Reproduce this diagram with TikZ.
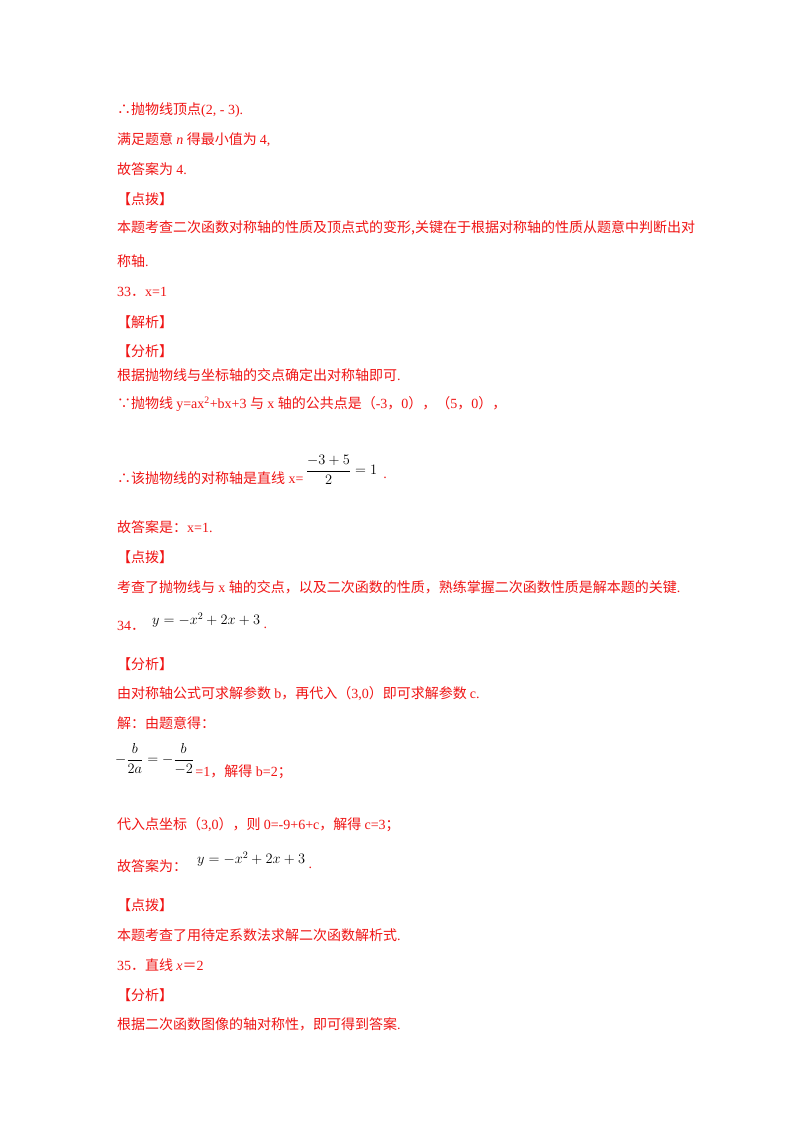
\documentclass[tikz,border=0pt]{standalone}
\usepackage{fontspec}
\setmainfont{Liberation Serif}
\newfontfamily\cjk{Noto Sans CJK SC}
\definecolor{txtred}{RGB}{240,20,20}
\begin{document}
\begin{tikzpicture}[x=1pt,y=-1pt,
  t/.style={anchor=west,inner sep=0pt,text=txtred,font=\fontsize{14}{16}\selectfont},
  m/.style={anchor=west,inner sep=0pt,text=black,font=\fontsize{14.5}{16}\selectfont}]
\useasboundingbox[fill=white] (0,0) rectangle (800,1132);
\node[t] (l1) at (117,110) {{\cjk ∴抛物线顶点}(2, - 3).};
\node[t] (l2) at (117,140) {\cjk 满足题意 \rmfamily\itshape n \upshape\cjk 得最小值为 \rmfamily 4,};
\node[t] (l3) at (117,169) {\cjk 故答案为 \rmfamily 4.};
\node[t] (l4) at (117,199) {\cjk 【点拨】};
\node[t] (l5) at (117,228) {\cjk 本题考查二次函数对称轴的性质及顶点式的变形,关键在于根据对称轴的性质从题意中判断出对};
\node[t] (l6) at (117,261) {\cjk 称轴\rmfamily.};
\node[t] (l7) at (117,292) {33{\cjk ．}x=1};
\node[t] (l8) at (117,322) {\cjk 【解析】};
\node[t] (l9) at (117,351) {\cjk 【分析】};
\node[t] (l10) at (117,375) {\cjk 根据抛物线与坐标轴的交点确定出对称轴即可\rmfamily.};
\node[t] (l11) at (117,404) {\cjk ∵抛物线 \rmfamily y=ax\textsuperscript{2}+bx+3 \cjk 与 \rmfamily x \cjk 轴的公共点是（\rmfamily-3\cjk ，\rmfamily0\cjk ），（\rmfamily5\cjk ，\rmfamily0\cjk ），};
\node[t] (l12) at (117,478) {{\cjk ∴该抛物线的对称轴是直线} x=};
\node[m] (f1) at ([xshift=2pt,yshift=8pt]l12.east) {$\displaystyle\frac{-3+5}{2}=1$};
\node[t] (d1) at ([xshift=6pt]l12.east -| f1.east) {.};
\node[t] (l13) at (117,527) {\cjk 故答案是：\rmfamily x=1.};
\node[t] (l14) at (117,557) {\cjk 【点拨】};
\node[t] (l15) at (117,587) {\cjk 考查了抛物线与 \rmfamily x \cjk 轴的交点，以及二次函数的性质，熟练掌握二次函数性质是解本题的关键\rmfamily.};
\node[t] (l16) at (117,626) {34{\cjk ．}};
\node[m] (f2) at (152,620) {$y=-x^2+2x+3$};
\node[t] (d2) at ([xshift=3pt,yshift=-8pt]f2.east) {.};
\node[t] (l17) at (117,664) {\cjk 【分析】};
\node[t] (l18) at (117,694) {\cjk 由对称轴公式可求解参数 \rmfamily b\cjk ，再代入（\rmfamily3,0\cjk ）即可求解参数 \rmfamily c.};
\node[t] (l19) at (117,723) {\cjk 解：由题意得：};
\node[m] (f3) at (115,759) {$\displaystyle -\frac{b}{2a}=-\frac{b}{-2}$};
\node[t] (l20) at ([xshift=1pt,yshift=-13pt]f3.east) {=1{\cjk ，解得} b=2{\cjk ；}};
\node[t] (l21) at (117,825) {\cjk 代入点坐标（\rmfamily3,0\cjk ），则 \rmfamily 0=-9+6+c\cjk ，解得 \rmfamily c=3\cjk ；};
\node[t] (l22) at (117,866) {\cjk 故答案为：};
\node[m] (f4) at (197,859) {$y=-x^2+2x+3$};
\node[t] (d3) at ([xshift=3pt,yshift=-9pt]f4.east) {.};
\node[t] (l23) at (117,905) {\cjk 【点拨】};
\node[t] (l24) at (117,935) {\cjk 本题考查了用待定系数法求解二次函数解析式\rmfamily.};
\node[t] (l25) at (117,965) {35\cjk ．直线 \rmfamily\itshape x\upshape\cjk ＝\rmfamily 2};
\node[t] (l26) at (117,995) {\cjk 【分析】};
\node[t] (l27) at (117,1024) {\cjk 根据二次函数图像的轴对称性，即可得到答案\rmfamily.};
\end{tikzpicture}
\end{document}
